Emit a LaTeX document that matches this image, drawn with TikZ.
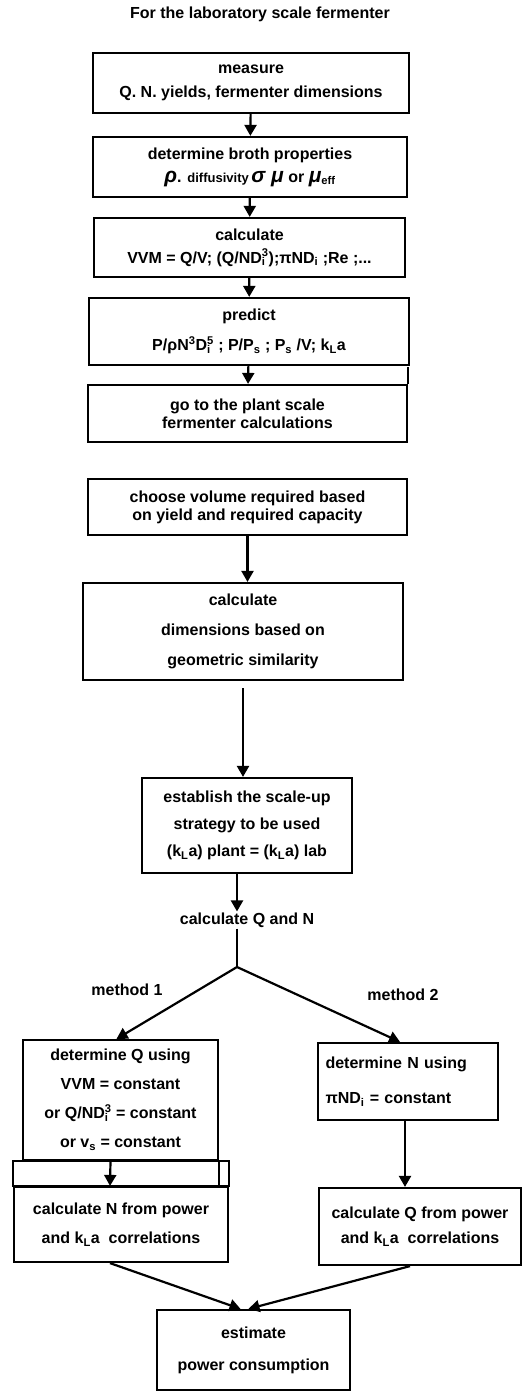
\documentclass[tikz,border=0pt]{standalone}
\usepackage{fontspec}
\setmainfont{Liberation Sans}
\usetikzlibrary{arrows.meta,calc}
\newcommand\lsub[1]{\textsubscript{#1}}
\newcommand\lsup[1]{\textsuperscript{#1}}
\newcommand\subsup[2]{\makebox[0pt][l]{\textsubscript{#1}}\textsuperscript{#2}}
\newcommand\gk[1]{{\fontsize{21}{21}\selectfont\itshape #1}}
\tikzset{
  box/.style={draw, line width=2.2pt, align=center, inner sep=0pt},
  fs/.style={font=\fontsize{16}{#1}\selectfont\bfseries},
  arr/.style={line width=2.2pt, -{Triangle[width=12pt,length=11pt]}},
  ln/.style={line width=2.2pt},
  lbl/.style={font=\fontsize{16}{18}\selectfont\bfseries, inner sep=1pt},
}
\begin{document}
\begin{tikzpicture}[x=1pt,y=-1pt]
\useasboundingbox (0,0) rectangle (522,1392);
% title
\node[lbl, font=\fontsize{16}{18}\selectfont\bfseries] (title) at (260,14) {For the laboratory scale fermenter};
% laboratory scale column
\node[box, fs=24, minimum width=316, minimum height=60] (m1) at (251,83)
  {measure\\Q. N. yields, fermenter dimensions};
\node[box, fs=23, minimum width=314, minimum height=60] (m2) at (250,167)
  {determine broth properties\\\gk{ρ}. {\fontsize{13}{13}\selectfont diffusivity}\,\gk{σ μ} or \gk{μ}\lsub{eff}};
\node[box, fs=23, minimum width=311, minimum height=59] (m3) at (249.5,247.5)
  {calculate\\VVM = Q/V; (Q/ND\subsup{i}{3});πND\lsub{i} ;Re ;...};
\node[box, fs=30, minimum width=320, minimum height=67] (m4) at (249,331.5)
  {predict\\P/ρN\lsup{3}D\subsup{i}{5} ; P/P\lsub{s} ; P\lsub{s} /V; k\lsub{L}a};
\node[box, fs=18, minimum width=319, minimum height=57] (m5) at (247.5,413.5)
  {go to the plant scale\\fermenter calculations};
\draw[ln] (m5.north east) -- ++(0,-17);
\draw[arr] (m1) -- (m2);
\draw[arr] (m2) -- (m3);
\draw[arr] (m3) -- (m4);
\draw[arr] (m4) -- (m5);
% plant scale column
\node[box, fs=18, minimum width=319, minimum height=56] (p1) at (247.5,507)
  {choose volume required based\\on yield and required capacity};
\node[box, fs=30, minimum width=320, minimum height=97] (p2) at (243,631.5)
  {calculate\\dimensions based on\\geometric similarity};
\node[box, fs=27, minimum width=210, minimum height=95] (p3) at (247,825.5)
  {establish the scale-up\\strategy to be used\\(k\lsub{L}a) plant = (k\lsub{L}a) lab};
\node[lbl] (cqn) at (247,920) {calculate Q and N};
\coordinate (j) at (237,967);
\draw[arr] (p1) -- (p1.south |- p2.north);
\draw[arr] ([yshift=-7pt]p2.south) -- (p2.south |- p3.north);
\draw[arr] (p3.south -| j) -- (cqn.north -| j);
\draw[ln] (cqn.south -| j) -- (j);
% methods
\node[lbl] (ml1) at (127,990) {method 1};
\node[lbl] (ml2) at (403,995) {method 2};
\node[box, fs=29, minimum width=195, minimum height=120] (q1) at (120.5,1100)
  {determine Q using\\VVM = constant\\or Q/ND\subsup{i}{3} = constant\\or v\lsub{s} = constant};
\node[box, fs=29, minimum width=214, minimum height=75] (q2) at (121,1224.5)
  {calculate N from power\\and k\lsub{L}a\ \ correlations};
\draw[ln] (q2.north west) rectangle ([yshift=25pt]q2.north east);
\draw[ln] ([xshift=-10pt]q2.north east) -- ([xshift=-10pt,yshift=25pt]q2.north east);
\node[box, fs=35, minimum width=180, minimum height=77, align=left, text width=165] (n1) at (408,1081.5)
  {determine N using\\πND\lsub{i} = constant};
\node[box, fs=25, minimum width=202, minimum height=77] (n2) at (420,1226.5)
  {calculate Q from power\\and k\lsub{L}a\ \ correlations};
\node[box, fs=32, minimum width=193, minimum height=80] (e) at (253.5,1350)
  {estimate\\power consumption};
\draw[arr] (j) -- ([xshift=-4pt]q1.north);
\draw[arr] (j) -- ([xshift=-8pt]n1.north);
\draw[arr] ([xshift=-10pt]q1.south) -- ([xshift=-11pt]q2.north);
\draw[arr] ([xshift=-3pt]n1.south) -- ([xshift=-3pt]n1.south |- n2.north);
\draw[arr] ([xshift=-11pt]q2.south) -- ([xshift=-13pt]e.north);
\draw[arr] ([xshift=-10pt]n2.south) -- ([xshift=-5pt]e.north);
\end{tikzpicture}
\end{document}
